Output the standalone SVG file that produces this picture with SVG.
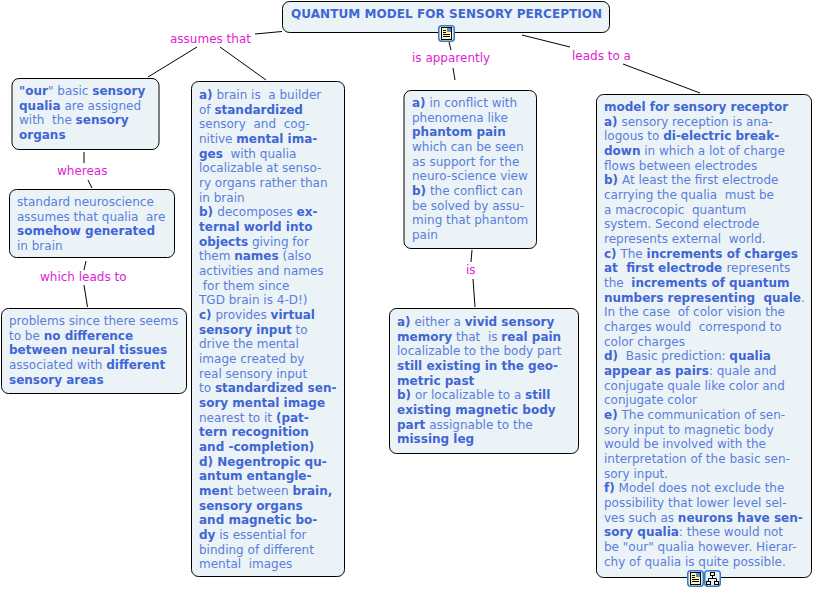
<svg xmlns="http://www.w3.org/2000/svg" width="813" height="590" viewBox="0 0 813 590">
<style>
text{font-family:"DejaVu Sans",Verdana,sans-serif;font-size:12px;fill:#5a7edb;white-space:pre}
.b{font-weight:bold;fill:#3f66d4}
.r{font-weight:normal;fill:#5a7edb}
.n{fill:#ebf3f7;stroke:#000;stroke-width:1}
text.l{fill:#e01ed2}
.c line{stroke:#000;stroke-width:1}
.ib{fill:#e4f0fa;stroke:#3b78c4;stroke-width:1.500}
.ip{fill:#fff4b0;stroke:#000;stroke-width:1}
.im{fill:#5a8ac8}
.it{stroke:#000;stroke-width:1;fill:none}
.ih{fill:#fff4b0;stroke:#000;stroke-width:1}
</style>
<defs>
<g id="doc"><rect class="ib" x="0.750" y="0.750" width="15.500" height="15.500" rx="3"/><rect class="ip" x="3.500" y="2.500" width="10" height="12"/><rect class="im" x="9" y="3" width="4" height="4"/><path class="it" d="M5 5.500h3M5 7.500h3M5 9.500h7M5 11.500h7"/></g>
<g id="map"><rect class="ib" x="0.750" y="0.750" width="15.500" height="15.500" rx="3"/><path class="it" d="M8.500 5v3.500M4.500 11V8.500h8V11"/><rect class="ih" x="6.500" y="2.500" width="4" height="3"/><rect class="ih" x="2.500" y="11.500" width="4" height="3"/><rect class="ih" x="10.500" y="11.500" width="4" height="3"/></g>
</defs>
<g id="connectors" class="c">
<line x1="282" y1="31.500" x2="255" y2="34"/>
<line x1="197" y1="47" x2="148" y2="77"/>
<line x1="220" y1="47" x2="266" y2="80"/>
<line x1="449" y1="42" x2="451" y2="50"/>
<line x1="453" y1="68" x2="455" y2="80"/>
<line x1="522" y1="35" x2="570" y2="47"/>
<line x1="623" y1="64" x2="700" y2="93"/>
<line x1="84" y1="152" x2="84" y2="163"/>
<line x1="88" y1="180" x2="92" y2="188"/>
<line x1="86" y1="261" x2="84" y2="270"/>
<line x1="84" y1="285" x2="87.500" y2="307"/>
<line x1="472" y1="250" x2="471" y2="262"/>
<line x1="473" y1="279" x2="475" y2="307"/>
</g>
<g id="labels">
<text class="l" x="170" y="43">assumes that</text>
<text class="l" x="412" y="62">is apparently</text>
<text class="l" x="572" y="60">leads to a</text>
<text class="l" x="57" y="175">whereas</text>
<text class="l" x="40" y="281">which leads to</text>
<text class="l" x="466" y="274">is</text>
</g>
<g id="title"><rect class="n" x="282.500" y="1.500" width="327" height="31" rx="7"/>
<text class="b" x="291" y="18" letter-spacing="0.060">QUANTUM MODEL FOR SENSORY PERCEPTION</text>
<use href="#doc" x="438" y="25"/></g>
<g id="our"><rect class="n" x="12" y="78.500" width="147" height="71" rx="7"/>
<text x="19" y="95"><tspan class="b">"our</tspan>" basic <tspan class="b">sensory</tspan></text>
<text x="19" y="110"><tspan class="b">qualia</tspan> are assigned</text>
<text x="19" y="124">with  the <tspan class="b">sensory</tspan></text>
<text x="19" y="139" class="b">organs</text></g>
<g id="standard"><rect class="n" x="9.500" y="189.500" width="165" height="68" rx="7"/>
<text x="17" y="206">standard neuroscience</text>
<text x="17" y="221">assumes that qualia  are</text>
<text x="17" y="235" class="b">somehow generated</text>
<text x="17" y="250">in brain</text></g>
<g id="problems"><rect class="n" x="1.500" y="308.500" width="185" height="85" rx="7"/>
<text x="9" y="325">problems since there seems</text>
<text x="9" y="340">to be <tspan class="b">no difference</tspan></text>
<text x="9" y="354" class="b">between neural tissues</text>
<text x="9" y="369">associated with <tspan class="b">different</tspan></text>
<text x="9" y="384" class="b">sensory areas</text></g>
<g id="brain"><rect class="n" x="191.500" y="81.500" width="153" height="495" rx="7"/>
<text x="199" y="99"><tspan class="b">a)</tspan> brain is  a builder</text>
<text x="199" y="114">of <tspan class="b">standardized</tspan></text>
<text x="199" y="128">sensory  and  cog-</text>
<text x="199" y="143">nitive <tspan class="b">mental ima-</tspan></text>
<text x="199" y="158"><tspan class="b">ges</tspan>  with qualia</text>
<text x="199" y="172">localizable at senso-</text>
<text x="199" y="187">ry organs rather than</text>
<text x="199" y="202">in brain</text>
<text x="199" y="216" class="b">b) <tspan class="r">decomposes </tspan>ex-</text>
<text x="199" y="231" class="b">ternal world into</text>
<text x="199" y="246"><tspan class="b">objects</tspan> giving for</text>
<text x="199" y="260">them <tspan class="b">names</tspan> (also</text>
<text x="199" y="275">activities and names</text>
<text x="199" y="290"> for them since</text>
<text x="199" y="304">TGD brain is 4-D!)</text>
<text x="199" y="319"><tspan class="b">c)</tspan> provides <tspan class="b">virtual</tspan></text>
<text x="199" y="334"><tspan class="b">sensory input</tspan> to</text>
<text x="199" y="348">drive the mental</text>
<text x="199" y="363">image created by</text>
<text x="199" y="378">real sensory input</text>
<text x="199" y="392">to <tspan class="b">standardized sen-</tspan></text>
<text x="199" y="407" class="b">sory mental image</text>
<text x="199" y="422">nearest to it <tspan class="b">(pat-</tspan></text>
<text x="199" y="436" class="b">tern recognition</text>
<text x="199" y="451" class="b">and -completion)</text>
<text x="199" y="466" class="b">d) Negentropic qu-</text>
<text x="199" y="480" class="b">antum entangle-</text>
<text x="199" y="495"><tspan class="b">men</tspan>t between <tspan class="b">brain,</tspan></text>
<text x="199" y="510" class="b">sensory organs</text>
<text x="199" y="524" class="b">and magnetic bo-</text>
<text x="199" y="539"><tspan class="b">dy</tspan> is essential for</text>
<text x="199" y="554">binding of different</text>
<text x="199" y="568">mental  images</text></g>
<g id="conflict"><rect class="n" x="404" y="90.500" width="132.500" height="158" rx="7"/>
<text x="412" y="107"><tspan class="b">a)</tspan> in conflict with</text>
<text x="412" y="122">phenomena like</text>
<text x="412" y="136" class="b">phantom pain</text>
<text x="412" y="151">which can be seen</text>
<text x="412" y="166">as support for the</text>
<text x="412" y="180">neuro-science view</text>
<text x="412" y="195"><tspan class="b">b)</tspan> the conflict can</text>
<text x="412" y="210">be solved by assu-</text>
<text x="412" y="224">ming that phantom</text>
<text x="412" y="239">pain</text></g>
<g id="either"><rect class="n" x="389.500" y="308.500" width="189" height="145" rx="7"/>
<text x="397" y="326"><tspan class="b">a)</tspan> either a <tspan class="b">vivid sensory</tspan></text>
<text x="397" y="341"><tspan class="b">memory</tspan> that  is <tspan class="b">real pain</tspan></text>
<text x="397" y="355">localizable to the body part</text>
<text x="397" y="370" class="b">still existing in the geo-</text>
<text x="397" y="385" class="b">metric past</text>
<text x="397" y="399"><tspan class="b">b)</tspan> or localizable to a <tspan class="b">still</tspan></text>
<text x="397" y="414" class="b">existing magnetic body</text>
<text x="397" y="429"><tspan class="b">part</tspan> assignable to the</text>
<text x="397" y="443" class="b">missing leg</text></g>
<g id="model"><rect class="n" x="596.500" y="94.500" width="215" height="483" rx="7"/>
<text x="604" y="111" class="b">model for sensory receptor</text>
<text x="604" y="126"><tspan class="b">a)</tspan> sensory reception is ana-</text>
<text x="604" y="140">logous to <tspan class="b">di-electric break-</tspan></text>
<text x="604" y="155"><tspan class="b">down</tspan> in which a lot of charge</text>
<text x="604" y="170">flows between electrodes</text>
<text x="604" y="184"><tspan class="b">b)</tspan> At least the first electrode</text>
<text x="604" y="199">carrying the qualia  must be</text>
<text x="604" y="214">a macrocopic  quantum</text>
<text x="604" y="228">system. Second electrode</text>
<text x="604" y="243">represents external  world.</text>
<text x="604" y="258"><tspan class="b">c)</tspan> The <tspan class="b">increments of charges</tspan></text>
<text x="604" y="272" class="b">at  first electrode <tspan class="r">represents</tspan></text>
<text x="604" y="287">the  <tspan class="b">increments of quantum</tspan></text>
<text x="604" y="302"><tspan class="b">numbers representing  quale</tspan>.</text>
<text x="604" y="316">In the case  of color vision the</text>
<text x="604" y="331">charges would  correspond to</text>
<text x="604" y="346">color charges</text>
<text x="604" y="360"><tspan class="b">d)</tspan>  Basic prediction: <tspan class="b">qualia</tspan></text>
<text x="604" y="375"><tspan class="b">appear as pairs</tspan>: quale and</text>
<text x="604" y="390">conjugate quale like color and</text>
<text x="604" y="404">conjugate color</text>
<text x="604" y="419"><tspan class="b">e)</tspan> The communication of sen-</text>
<text x="604" y="434">sory input to magnetic body</text>
<text x="604" y="448">would be involved with the</text>
<text x="604" y="463">interpretation of the basic sen-</text>
<text x="604" y="478">sory input.</text>
<text x="604" y="492"><tspan class="b">f)</tspan> Model does not exclude the</text>
<text x="604" y="507">possibility that lower level sel-</text>
<text x="604" y="522">ves such as <tspan class="b">neurons have sen-</tspan></text>
<text x="604" y="536"><tspan class="b">sory qualia</tspan>: these would not</text>
<text x="604" y="551">be "our" qualia however. Hierar-</text>
<text x="604" y="566">chy of qualia is quite possible.</text>
<use href="#doc" x="687" y="570"/><use href="#map" x="704" y="570"/></g>
</svg>
